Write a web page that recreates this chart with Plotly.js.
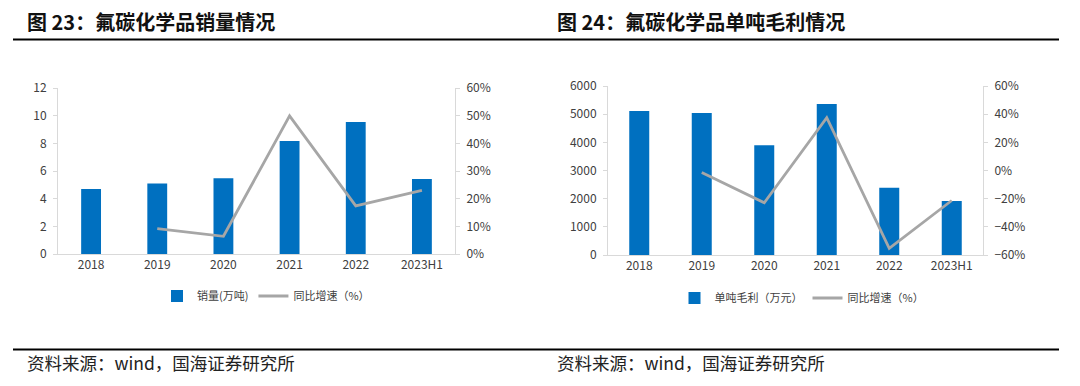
<!DOCTYPE html>
<html>
<head>
<meta charset="utf-8">
<script src="https://cdn.plot.ly/plotly-3.0.1.min.js"></script>
<style>
html,body{margin:0;padding:0;background:#fff;}
#chart{width:1080px;height:386px;}
</style>
</head>
<body>
<div id="chart"></div>
<script>
// ---- data ----
var categories = ['2018', '2019', '2020', '2021', '2022', '2023H1'];
var salesVolume = [4.7, 5.1, 5.47, 8.17, 9.54, 5.42];            // 万吨
var salesGrowth = [null, 0.092, 0.064, 0.499, 0.174, 0.23];       // 同比增速
var unitProfit = [5110, 5040, 3894, 5360, 2390, 1917];            // 万元
var profitGrowth = [null, -0.015, -0.229, 0.375, -0.553, -0.213]; // 同比增速

var leftTitle = '<b>图 23：氟碳化学品销量情况</b>';
var rightTitle = '<b>图 24：氟碳化学品单吨毛利情况</b>';
var sourceText = '资料来源：wind，国海证券研究所';
var volName = '销量(万吨)';
var profitName = '单吨毛利（万元）';
var growthName = '同比增速（%）';

var W = 1080, H = 386;
function px(x){return x / W;}
function py(y){return 1 - y / H;}

var FONT = '"Noto Sans CJK SC", "Noto Sans", sans-serif';
var BLUE = '#0070c0', GREY = '#a6a6a6', AXIS = '#d9d9d9', TXT = '#404040';

var traces = [
  {type:'bar', x:categories, y:salesVolume, name:volName, xaxis:'x', yaxis:'y',
   marker:{color:BLUE}, width:0.3, legend:'legend', hoverinfo:'none'},
  {type:'scatter', mode:'lines', x:categories, y:salesGrowth, name:growthName, xaxis:'x', yaxis:'y3',
   line:{color:GREY, width:2.8}, legend:'legend', hoverinfo:'none'},
  {type:'bar', x:categories, y:unitProfit, name:profitName, xaxis:'x2', yaxis:'y2',
   marker:{color:BLUE}, width:0.32, legend:'legend2', hoverinfo:'none'},
  {type:'scatter', mode:'lines', x:categories, y:profitGrowth, name:growthName, xaxis:'x2', yaxis:'y4',
   line:{color:GREY, width:2.8}, legend:'legend2', hoverinfo:'none'}
];

function xAx(domain, anchor){
  return {domain:domain, anchor:anchor, type:'category', showline:true, linecolor:AXIS, linewidth:1,
    ticks:'', showgrid:false, tickfont:{family:FONT, size:12, color:TXT}, fixedrange:true};
}
function yAx(domain, anchor, range, dtick, side, fmt, overlay){
  var a = {domain:domain, anchor:anchor, range:range, dtick:dtick, tick0:0, side:side, showline:true,
    linecolor:AXIS, linewidth:1, ticks:'outside', ticklen:4, tickcolor:AXIS, showgrid:false, zeroline:false,
    tickfont:{family:FONT, size:12, color:TXT}, ticklabelstandoff:4, fixedrange:true};
  if (fmt) a.tickformat = fmt;
  if (overlay) a.overlaying = overlay;
  return a;
}

var lDom = [px(58), px(455)], rDom = [px(608), px(983)];
var lY = [py(254), py(88)], rY = [py(255), py(86)];

var layout = {
  width:W, height:H, margin:{l:0, r:0, t:0, b:0},
  paper_bgcolor:'#fff', plot_bgcolor:'rgba(0,0,0,0)',
  font:{family:FONT, color:TXT},
  showlegend:true,
  xaxis: xAx(lDom, 'y'),
  yaxis: yAx(lY, 'x', [0, 12], 2, 'left'),
  yaxis3: yAx(lY, 'x', [0, 0.6], 0.1, 'right', '.0%', 'y'),
  xaxis2: xAx(rDom, 'y2'),
  yaxis2: yAx(rY, 'x2', [0, 6000], 1000, 'left'),
  yaxis4: yAx(rY, 'x2', [-0.6, 0.6], 0.2, 'right', '.0%', 'y2'),
  legend:{orientation:'h', x:px(266), y:py(296), xanchor:'center', yanchor:'middle',
    font:{family:FONT, size:11, color:TXT}, bgcolor:'rgba(0,0,0,0)', itemwidth:30, tracegroupgap:0},
  legend2:{orientation:'h', x:px(802), y:py(298), xanchor:'center', yanchor:'middle',
    font:{family:FONT, size:11, color:TXT}, bgcolor:'rgba(0,0,0,0)', itemwidth:30, tracegroupgap:0},
  shapes:[
    {type:'line', xref:'paper', yref:'paper', x0:px(13), x1:px(1059), y0:py(39.5), y1:py(39.5), line:{color:'#000', width:2}},
    {type:'line', xref:'paper', yref:'paper', x0:px(13), x1:px(1059), y0:py(349.5), y1:py(349.5), line:{color:'#000', width:2}}
  ],
  annotations:[
    {text:leftTitle, xref:'paper', yref:'paper', x:px(25), y:py(22), xanchor:'left', yanchor:'middle', showarrow:false,
     font:{family:FONT, size:20, color:'#111'}},
    {text:rightTitle, xref:'paper', yref:'paper', x:px(555), y:py(22), xanchor:'left', yanchor:'middle', showarrow:false,
     font:{family:FONT, size:20, color:'#111'}},
    {text:sourceText, xref:'paper', yref:'paper', x:px(25), y:py(362), xanchor:'left', yanchor:'middle', showarrow:false,
     font:{family:FONT, size:17.5, color:'#222'}},
    {text:sourceText, xref:'paper', yref:'paper', x:px(555), y:py(362), xanchor:'left', yanchor:'middle', showarrow:false,
     font:{family:FONT, size:17.5, color:'#222'}}
  ]
};

Plotly.newPlot('chart', traces, layout, {staticPlot:true, displayModeBar:false});
</script>
</body>
</html>
